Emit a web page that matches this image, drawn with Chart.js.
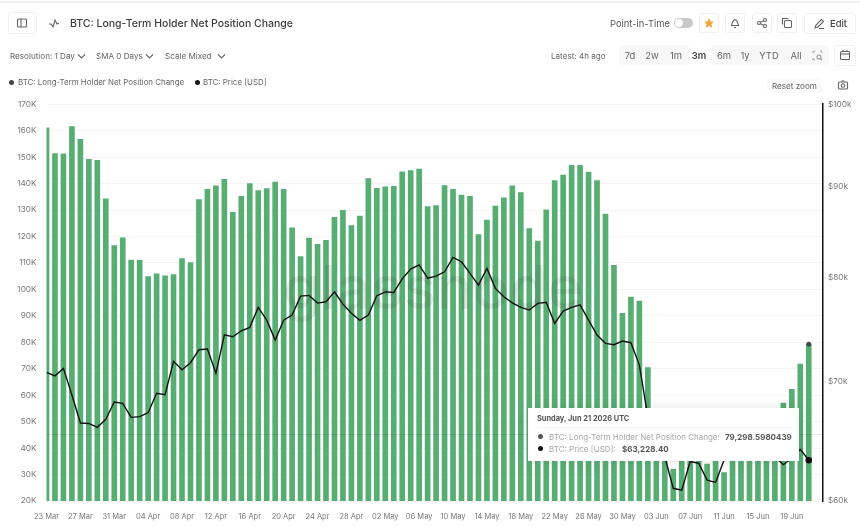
<!DOCTYPE html>
<html>
<head>
<meta charset="utf-8">
<title>BTC: Long-Term Holder Net Position Change</title>
<script src="https://cdn.jsdelivr.net/npm/chart.js@4"></script>
<style>
  html, body { margin: 0; padding: 0; background: #fff; overflow: hidden; }
  body { width: 860px; height: 527px; position: relative; font-family: Inter, "Noto Sans", sans-serif; color: #555; }
  canvas { position: absolute; left: 0; top: 0; }
  .t { position: absolute; white-space: nowrap; line-height: 12px; }
  .box { position: absolute; border: 1px solid #f1f1f1; border-radius: 3px; box-sizing: border-box; background: #fff; }
  .ico { position: absolute; fill: none; stroke: #666; stroke-width: 1.1; }
  .small { font-size: 8.1px; color: #666; }
  .range { font-size: 9.4px; color: #666; top: 50px; transform: translateX(-50%); }
  .dot { position: absolute; border-radius: 50%; }
  #watermark { position: absolute; left: 283px; top: 252px; font-size: 60px; line-height: 70px; font-weight: 500; letter-spacing: 0.5px; color: rgba(50, 50, 50, 0.11); }
  #tip { position: absolute; left: 528px; top: 408px; width: 271px; height: 53px; background: #fff; box-shadow: 0 0 14px rgba(0, 0, 0, 0.10); }
  #tip .t { font-size: 8px; }
  #tip .name { color: #a6a6a6; }
  #tip .val { color: #555; font-weight: 700; }
</style>
</head>
<body>
<canvas id="chart" width="860" height="527"></canvas>

<div id="watermark">glassnode</div>

<div style="position:absolute;left:0;top:1px;width:860px;height:2px;background:#f3f3f3"></div>

<!-- header row -->
<div class="box" style="left:8px;top:12px;width:29px;height:22px"></div>
<svg class="ico" style="left:16px;top:17px" width="12" height="12"><rect x="1.5" y="2" width="9" height="8" rx="1"/><line x1="5" y1="2" x2="5" y2="10"/></svg>
<svg class="ico" style="left:48px;top:17px" width="12" height="12"><polyline points="1,7 3,7 5,10 7,3 9,7 11,6"/></svg>
<div class="t" style="left:70px;top:17.5px;font-size:10.5px;font-weight:500;color:#3c3c3c">BTC: Long-Term Holder Net Position Change</div>

<div class="t" style="left:610px;top:18px;font-size:9.4px;color:#555">Point-in-Time</div>
<div style="position:absolute;left:674px;top:18px;width:19px;height:10px;border-radius:5px;background:#c9c9c9"></div>
<div style="position:absolute;left:675px;top:19px;width:8px;height:8px;border-radius:50%;background:#fff"></div>
<div class="box" style="left:699px;top:13px;width:20px;height:20px"></div>
<svg style="position:absolute;left:703px;top:17px" width="12" height="12"><polygon fill="#f0a63c" points="6,1 7.5,4.4 11,4.8 8.4,7.1 9.2,10.8 6,8.9 2.8,10.8 3.6,7.1 1,4.8 4.5,4.4"/></svg>
<div class="box" style="left:725px;top:13px;width:20px;height:20px"></div>
<svg class="ico" style="left:729px;top:17px" width="12" height="12"><path d="M2.5 8.5 C3.5 7 3 3 6 2.5 C9 3 8.5 7 9.5 8.5 Z"/><line x1="5" y1="10.5" x2="7" y2="10.5"/></svg>
<div class="box" style="left:752px;top:13px;width:20px;height:20px"></div>
<svg class="ico" style="left:756px;top:17px" width="12" height="12"><circle cx="3" cy="6" r="1.5"/><circle cx="9" cy="3" r="1.5"/><circle cx="9" cy="9" r="1.5"/><line x1="4.4" y1="5.3" x2="7.6" y2="3.7"/><line x1="4.4" y1="6.7" x2="7.6" y2="8.3"/></svg>
<div class="box" style="left:777px;top:13px;width:20px;height:20px"></div>
<svg class="ico" style="left:781px;top:17px" width="12" height="12"><rect x="3.5" y="3.5" width="7" height="7" rx="1"/><path d="M1.5 7.5 V1.5 H7.5"/></svg>
<div class="box" style="left:804px;top:13px;width:52px;height:21px"></div>
<svg class="ico" style="left:813px;top:18px" width="12" height="12"><path d="M2 10 L3 7 L8.5 1.5 L10.5 3.5 L5 9 Z"/><line x1="6" y1="10.5" x2="11" y2="10.5"/></svg>
<div class="t" style="left:830px;top:18px;font-size:9.4px;font-weight:500;color:#444">Edit</div>

<!-- resolution row -->
<div class="t small" style="left:10px;top:50px">Resolution: 1 Day</div>
<svg class="ico" style="left:77px;top:53px" width="9" height="7"><polyline points="1,1.5 4.5,5 8,1.5"/></svg>
<div class="t small" style="left:96px;top:50px">SMA 0 Days</div>
<svg class="ico" style="left:145px;top:53px" width="9" height="7"><polyline points="1,1.5 4.5,5 8,1.5"/></svg>
<div class="t small" style="left:165px;top:50px">Scale Mixed</div>
<svg class="ico" style="left:217px;top:53px" width="9" height="7"><polyline points="1,1.5 4.5,5 8,1.5"/></svg>

<div class="t small" style="left:551px;top:50px">Latest: 4h ago</div>
<div style="position:absolute;left:619px;top:45px;width:210px;height:20px;background:#f8f8f8;border-radius:3px"></div>
<div style="position:absolute;left:689px;top:45px;width:22px;height:20px;background:#fff"></div>
<div class="t range" style="left:630px">7d</div>
<div class="t range" style="left:652px">2w</div>
<div class="t range" style="left:676px">1m</div>
<div class="t range" style="left:699px;font-weight:600;color:#444">3m</div>
<div class="t range" style="left:724px">6m</div>
<div class="t range" style="left:745px">1y</div>
<div class="t range" style="left:769px">YTD</div>
<div class="t range" style="left:796px">All</div>
<svg class="ico" style="left:812px;top:50px;stroke:#999" width="11" height="11"><path d="M1 3 V1 H3 M8 1 H10 V3 M1 8 V10 H3" stroke-dasharray="2 1"/><circle cx="7" cy="7" r="2"/><line x1="8.5" y1="8.5" x2="10" y2="10"/></svg>
<div class="box" style="left:834px;top:45px;width:22px;height:21px"></div>
<svg class="ico" style="left:839px;top:49px" width="12" height="12"><rect x="1.5" y="2.5" width="9" height="8" rx="1"/><line x1="1.5" y1="5" x2="10.5" y2="5"/><line x1="4" y1="1" x2="4" y2="3"/><line x1="8" y1="1" x2="8" y2="3"/></svg>

<!-- legend and zoom controls -->
<div class="dot" style="left:9px;top:79.5px;width:5px;height:5px;background:#444"></div>
<div class="t" style="left:18px;top:76px;font-size:7.9px;color:#666">BTC: Long-Term Holder Net Position Change</div>
<div class="dot" style="left:194.5px;top:79.5px;width:5px;height:5px;background:#111"></div>
<div class="t" style="left:203px;top:76px;font-size:7.9px;color:#666">BTC: Price [USD]</div>
<div style="position:absolute;left:767px;top:78px;width:55px;height:15px;background:#fafafa;border-radius:2px"></div>
<div class="t" style="left:772px;top:79.5px;font-size:8.1px;color:#666">Reset zoom</div>
<svg class="ico" style="left:837px;top:79px" width="12" height="12"><rect x="1.5" y="3" width="9" height="7" rx="1"/><circle cx="6" cy="6.5" r="1.8"/><line x1="4.5" y1="2" x2="7.5" y2="2"/></svg>

<!-- readout for the last day -->
<div id="tip">
  <div class="t" id="tipDate" style="left:9px;top:5px;font-size:7.4px;font-weight:700;color:#555"></div>
  <div style="position:absolute;left:9px;right:7px;top:18.5px;height:1px;background:#f2f2f2"></div>
  <div class="dot" style="left:9.5px;top:25.5px;width:5px;height:5px;background:#555"></div>
  <div class="t name" style="left:21px;top:22.5px">BTC: Long-Term Holder Net Position Change:</div>
  <div class="t val" id="tipNet" style="left:197px;top:22.5px"></div>
  <div class="dot" style="left:9.5px;top:37.5px;width:5px;height:5px;background:#111"></div>
  <div class="t name" style="left:21px;top:34.5px">BTC: Price [USD]:</div>
  <div class="t val" id="tipPrice" style="left:94px;top:34.5px"></div>
</div>

<script>
const days = [
  '23 Mar','24 Mar','25 Mar','26 Mar','27 Mar','28 Mar','29 Mar','30 Mar','31 Mar',
  '01 Apr','02 Apr','03 Apr','04 Apr','05 Apr','06 Apr','07 Apr','08 Apr','09 Apr','10 Apr',
  '11 Apr','12 Apr','13 Apr','14 Apr','15 Apr','16 Apr','17 Apr','18 Apr','19 Apr','20 Apr',
  '21 Apr','22 Apr','23 Apr','24 Apr','25 Apr','26 Apr','27 Apr','28 Apr','29 Apr','30 Apr',
  '01 May','02 May','03 May','04 May','05 May','06 May','07 May','08 May','09 May','10 May',
  '11 May','12 May','13 May','14 May','15 May','16 May','17 May','18 May','19 May','20 May',
  '21 May','22 May','23 May','24 May','25 May','26 May','27 May','28 May','29 May','30 May','31 May',
  '01 Jun','02 Jun','03 Jun','04 Jun','05 Jun','06 Jun','07 Jun','08 Jun','09 Jun','10 Jun',
  '11 Jun','12 Jun','13 Jun','14 Jun','15 Jun','16 Jun','17 Jun','18 Jun','19 Jun','20 Jun','21 Jun'
];

const netPosition = [
  161100,151300,151200,161500,156700,149200,148800,134200,116600,119500,
  111100,111000,104800,105900,105100,105600,111600,110100,133900,137800,
  139100,141600,129100,135200,140000,137300,138100,140600,137800,123300,
  112400,119400,117000,118500,127200,129900,124100,127700,141900,138200,
  138800,139000,144400,144900,145500,131300,131700,139200,137800,135600,
  135200,120700,126200,131500,134600,139100,136600,123000,118300,130100,
  141100,143200,146900,146900,144300,141100,128500,109100,90900,97100,
  95600,70400,48000,40000,32000,37000,38000,40000,34000,36000,
  30700,38000,40000,44000,46000,50000,53000,57000,62200,71800,79298.5980439
];

const price = [
  70800,70490,71170,68770,66340,66300,65970,66650,68150,68040,
  66820,66880,67220,68920,68800,71820,71040,71690,72900,72960,
  70720,74320,74130,74700,75030,76980,75730,73810,75730,76230,
  78110,78180,77410,77540,78540,77310,76400,75710,76230,78140,
  78540,78480,79870,80870,81320,79940,80150,80590,82100,81640,
  80430,79230,80950,78890,78040,77440,76980,76720,77380,77490,
  75410,76620,76980,77240,75730,74290,73500,73370,73720,73560,
  71470,66880,64900,63520,60990,60840,63120,62990,61640,61460,
  63250,64000,65500,64800,64200,63800,63500,62870,63390,64130,63228.40
];

const priceTicks = [60000, 70000, 80000, 90000, 100000];
const hoverLevel = 45300;
const lastDate = 'Sunday, Jun 21 2026 UTC';

const last = days.length - 1;

document.getElementById('tipDate').textContent = lastDate;
document.getElementById('tipNet').textContent = netPosition[last].toLocaleString('en-US', { minimumFractionDigits: 7 });
document.getElementById('tipPrice').textContent = '$' + price[last].toLocaleString('en-US', { minimumFractionDigits: 2 });

const toPoints = (arr) => arr.map((y, i) => ({ x: i, y }));
const tickFont = { family: 'Inter', size: 8.2 };

// horizontal hover guide, sits above the bars
const hoverGuide = {
  id: 'hoverGuide',
  afterDatasetsDraw(chart) {
    const { ctx, chartArea, scales } = chart;
    const y = Math.round(scales.y.getPixelForValue(hoverLevel)) + 0.5;
    ctx.save();
    ctx.strokeStyle = 'rgba(0, 0, 0, 0.09)';
    ctx.lineWidth = 1;
    ctx.beginPath();
    ctx.moveTo(chartArea.left, y);
    ctx.lineTo(chartArea.right, y);
    ctx.stroke();
    ctx.restore();
  }
};

new Chart(document.getElementById('chart').getContext('2d'), {
  type: 'bar',
  data: {
    datasets: [
      {
        type: 'line',
        label: 'BTC: Price [USD]',
        data: toPoints(price),
        yAxisID: 'y2',
        borderColor: '#111',
        borderWidth: 1.4,
        backgroundColor: '#111',
        tension: 0,
        pointRadius: (c) => (c.dataIndex === last ? 2.6 : 0),
        order: 1
      },
      {
        type: 'line',
        label: 'last net position',
        data: toPoints(netPosition),
        yAxisID: 'y',
        showLine: false,
        backgroundColor: '#444',
        borderColor: '#444',
        pointRadius: (c) => (c.dataIndex === last ? 2 : 0),
        order: 2
      },
      {
        label: 'BTC: Long-Term Holder Net Position Change',
        data: toPoints(netPosition),
        yAxisID: 'y',
        backgroundColor: '#57ae73',
        barThickness: 5,
        order: 3
      }
    ]
  },
  options: {
    responsive: false,
    animation: false,
    layout: { padding: { top: 104.2 } },
    plugins: { legend: { display: false }, tooltip: { enabled: false } },
    scales: {
      x: {
        type: 'linear',
        offset: false,
        min: 0,
        max: 91.68,
        border: { display: false },
        grid: { display: false },
        // first and last labels may overhang the plot without pushing it inward
        afterFit: (s) => { s.height = 26; s.paddingLeft = 0; s.paddingRight = 0; },
        ticks: {
          stepSize: 4,
          includeBounds: false,
          autoSkip: false,
          maxRotation: 0,
          padding: 3,
          color: '#777',
          font: { family: 'Inter', size: 7.5 },
          callback: (v) => days[v]
        }
      },
      y: {
        position: 'left',
        min: 20000,
        max: 170000,
        border: { display: false },
        grid: { color: '#f4f4f4', drawTicks: false },
        afterFit: (s) => { s.width = 46.5; },
        ticks: {
          stepSize: 10000,
          padding: 10,
          color: '#777',
          font: tickFont,
          callback: (v) => v / 1000 + 'K'
        }
      },
      y2: {
        type: 'logarithmic',
        position: 'right',
        min: 60000,
        max: 100000,
        border: { color: '#111', width: 1.5 },
        grid: { display: false, drawTicks: false },
        afterFit: (s) => { s.width = 37; },
        afterBuildTicks: (s) => { s.ticks = priceTicks.map((value) => ({ value })); },
        ticks: {
          autoSkip: false,
          padding: 5,
          color: '#777',
          font: tickFont,
          callback: (v) => '$' + v / 1000 + 'k'
        }
      }
    }
  },
  plugins: [hoverGuide]
});
</script>
</body>
</html>
